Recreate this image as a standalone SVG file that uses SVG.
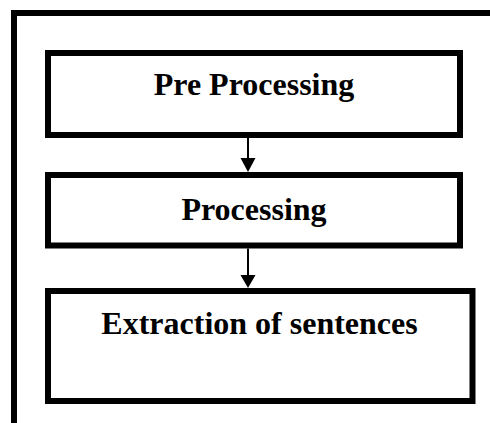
<svg xmlns="http://www.w3.org/2000/svg" width="490" height="423" viewBox="0 0 490 423">
  <style>
    .frame { fill: none; stroke: #000; stroke-width: 6; }
    .box { fill: #fff; stroke: #000; stroke-width: 6; }
    .label { font-family: "Liberation Serif", "Times New Roman", serif; font-weight: bold; font-size: 32px; fill: #000; text-anchor: middle; }
    .link { stroke: #000; stroke-width: 2; fill: none; }
    .head { fill: #000; }
  </style>
  <rect width="490" height="423" fill="#fff"/>
  <!-- outer frame: top and left rules only -->
  <g id="frame">
    <path class="frame" d="M14 423 V13 H490"/>
  </g>
  <g id="pre-processing">
    <rect class="box" x="48" y="53" width="412" height="82"/>
    <text class="label" x="254" y="95">Pre Processing</text>
  </g>
  <g id="processing">
    <rect class="box" x="48" y="175" width="412" height="70.5"/>
    <text class="label" x="254" y="220">Processing</text>
  </g>
  <g id="extraction">
    <rect class="box" x="48" y="291" width="424.5" height="110"/>
    <text class="label" x="259.5" y="334">Extraction of sentences</text>
  </g>
  <g id="connectors">
    <line class="link" x1="248" y1="138" x2="248" y2="160"/>
    <polygon class="head" points="240.5,158 255.5,158 248,172"/>
    <line class="link" x1="248" y1="248.5" x2="248" y2="277"/>
    <polygon class="head" points="240.5,275 255.5,275 248,288"/>
  </g>
</svg>
